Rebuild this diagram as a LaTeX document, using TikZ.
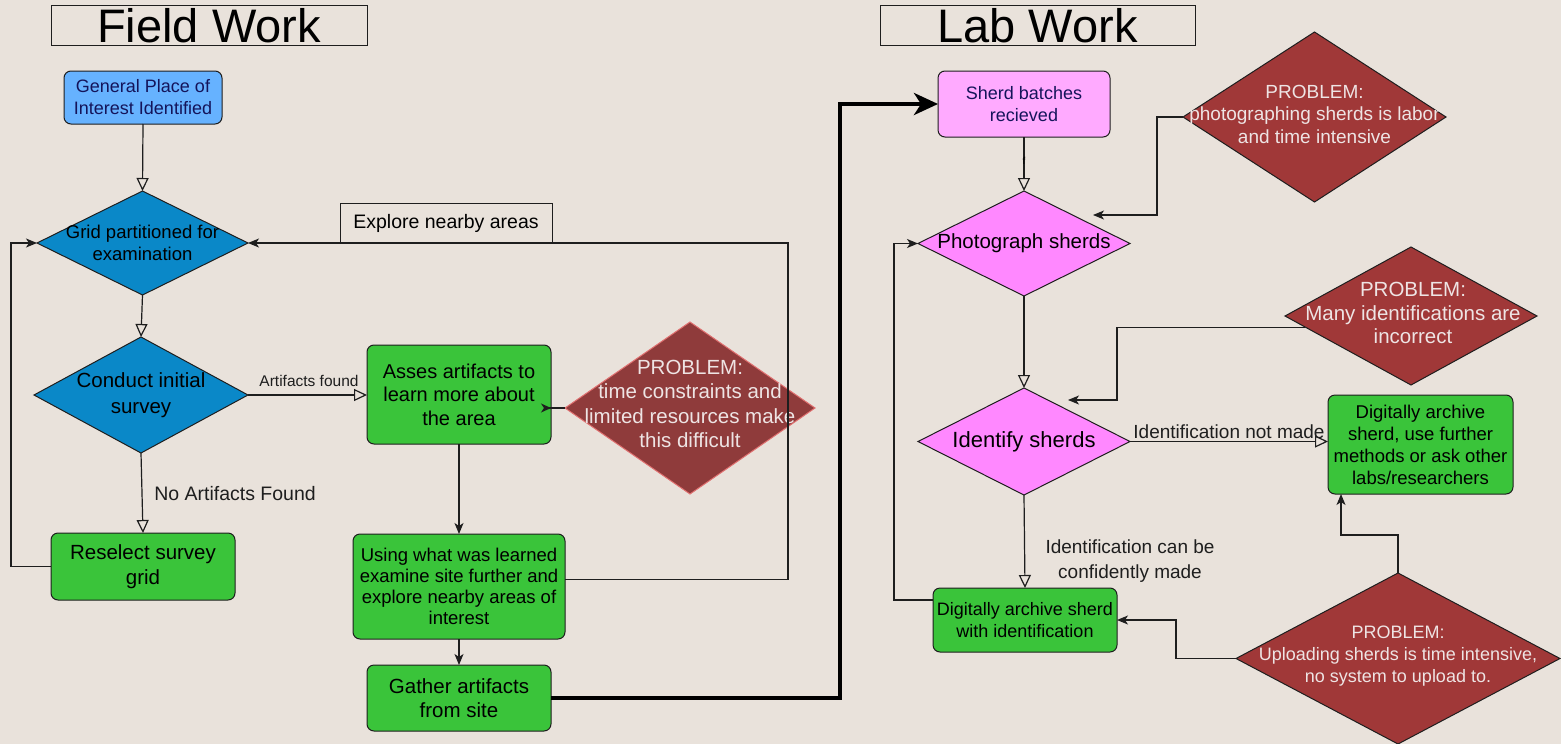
\documentclass[tikz,border=0pt]{standalone}
\usepackage{fontspec}
\setmainfont{Liberation Sans}
\usetikzlibrary{shapes.geometric,arrows.meta,calc}
\definecolor{bg}{RGB}{233,226,219}
\definecolor{blueA}{RGB}{102,178,255}
\definecolor{blueD}{RGB}{10,136,200}
\definecolor{greenN}{RGB}{58,196,58}
\definecolor{pinkR}{RGB}{255,170,255}
\definecolor{pinkD}{RGB}{255,136,255}
\definecolor{probA}{RGB}{143,59,59}
\definecolor{probB}{RGB}{160,56,56}
\definecolor{probEdge}{RGB}{224,112,112}
\definecolor{probText}{RGB}{238,228,228}
\definecolor{navy}{RGB}{20,20,90}
\definecolor{ink}{RGB}{30,30,30}
\newcommand{\myfs}[2]{\fontsize{#1pt}{#2pt}\selectfont}
\begin{document}
\begin{tikzpicture}[x=1pt,y=-1pt,
  box/.style={draw=ink, line width=1pt, rounded corners=7pt, inner sep=0pt, outer sep=0pt, align=center},
  dia/.style={diamond, draw=ink, line width=1pt, inner sep=0pt, outer sep=0pt},
  titlebox/.style={draw=ink, line width=1pt, minimum width=316pt, minimum height=40pt, inner sep=0pt, outer sep=0pt},
  dtext/.style={align=center, inner sep=0pt},
  ptext/.style={align=center, inner sep=0pt, text=probText},
  lbl/.style={align=center, inner sep=0pt, text=ink},
  conn/.style={draw=ink, line width=1.2pt},
  hol/.style={conn, -{Triangle[open, length=13pt, width=12pt]}},
  fil/.style={conn, -{Stealth[length=11pt, width=9pt, inset=3pt]}},
  thickarrow/.style={draw=black, line width=4pt, -{Stealth[length=24pt, width=22pt, inset=7pt]}}
]
\fill[bg] (0,0) rectangle (1561,744);
\useasboundingbox (0,0) rectangle (1561,744);

% titles
\node[titlebox] (fwbox) at (209,25) {};
\node[font=\myfs{47}{50}, anchor=base, inner sep=0pt] (fwt) at (209,42) {Field Work};
\node[titlebox, minimum width=315pt] (lwbox) at (1037.5,25) {};
\node[font=\myfs{47}{50}, anchor=base, inner sep=0pt] (lwt) at (1037.5,42) {Lab Work};

% field work nodes
\node[box, fill=blueA, minimum width=158pt, minimum height=53pt, text=navy, font=\myfs{18}{22}] (gen) at (143,97.5) {General Place of\\Interest Identified};
\node[dia, fill=blueD, minimum width=211pt, minimum height=104pt] (grid) at (142.5,243) {};
\node[dtext, font=\myfs{18.5}{22}] (gridt) at (grid.center) {Grid partitioned for\\examination};
\node[dia, fill=blueD, minimum width=214pt, minimum height=116pt] (cond) at (141,395) {};
\node[dtext, font=\myfs{20.5}{26}] (condt) at (cond.center) {Conduct initial\\survey};
\node[box, fill=greenN, minimum width=184pt, minimum height=67pt, font=\myfs{20.5}{24.5}] (resel) at (143,566.5) {Reselect survey\\grid};
\node[box, fill=greenN, minimum width=184pt, minimum height=99pt, font=\myfs{20}{23.5}] (asses) at (459,394.5) {Asses artifacts to\\learn more about\\the area};
\node[dia, fill=probA, draw=probEdge, minimum width=250pt, minimum height=172pt] (p1) at (690,408) {};
\node[ptext, font=\myfs{20.5}{24.5}] (p1t) at (690,404) {PROBLEM:\\time constraints and\\limited resources make\\this difficult};
\node[box, fill=greenN, minimum width=212pt, minimum height=105pt, font=\myfs{18.5}{21}] (using) at (459,586.5) {Using what was learned\\examine site further and\\explore nearby areas of\\interest};
\node[box, fill=greenN, minimum width=184pt, minimum height=66pt, font=\myfs{20.5}{24.5}] (gather) at (459,698) {Gather artifacts\\from site};
\node[draw=ink, line width=1pt, minimum width=212pt, minimum height=40pt, inner sep=0pt, outer sep=0pt, font=\myfs{19.5}{22}] (explore) at (446,223) {Explore nearby areas};

% lab work nodes
\node[box, fill=pinkR, minimum width=172pt, minimum height=66pt, text=navy, font=\myfs{18}{22}] (sherd) at (1024,104) {Sherd batches\\recieved};
\node[dia, fill=pinkD, minimum width=212pt, minimum height=105pt] (photo) at (1024,243.5) {};
\node[dtext, font=\myfs{20.5}{24}] (photot) at (photo.center) {Photograph sherds};
\node[dia, fill=probB, minimum width=263pt, minimum height=170pt] (p2) at (1314.5,117) {};
\node[ptext, font=\myfs{19}{22.5}] (p2t) at (1314.5,114) {PROBLEM:\\photographing sherds is labor\\and time intensive};
\node[dia, fill=probB, minimum width=252pt, minimum height=138pt] (p3) at (1411,316) {};
\node[ptext, font=\myfs{20.5}{23.5}] (p3t) at (1413,313) {PROBLEM:\\Many identifications are\\incorrect};
\node[dia, fill=pinkD, minimum width=212pt, minimum height=107pt] (ident) at (1024,441.5) {};
\node[dtext, font=\myfs{22}{26}] (identt) at (ident.center) {Identify sherds};
\node[box, fill=greenN, minimum width=185pt, minimum height=99pt, font=\myfs{18.5}{22}] (further) at (1420.5,444.5) {Digitally archive\\sherd, use further\\methods or ask other\\labs/researchers};
\node[box, fill=greenN, minimum width=184pt, minimum height=64pt, font=\myfs{18}{22.5}] (withid) at (1025,620) {Digitally archive sherd\\with identification};
\node[dia, fill=probB, minimum width=324pt, minimum height=171pt] (p4) at (1398,658.5) {};
\node[ptext, font=\myfs{18}{22}] (p4t) at (1398,656) {PROBLEM:\\Uploading sherds is time intensive,\\no system to upload to.};

% helper coordinates
\coordinate (lx) at (11,0);
\coordinate (rx) at (788,0);
\coordinate (tx) at (840,0);
\coordinate (p2x) at (1157,0);
\coordinate (p2in) at (1093,215);
\coordinate (p3x) at (1117,0);
\coordinate (p3in) at (1068,400);
\coordinate (wx) at (894,0);
\coordinate (p4x) at (1176,0);
\coordinate (fin) at (1341,494);

% field work connectors
\draw[hol] (gen.south) -- (grid.north);
\draw[hol] (grid.south) -- (cond.north);
\draw[hol] (cond.east) -- (cond.east -| asses.west);
\node[lbl, font=\myfs{15.5}{18}] (afl) at (309,381) {Artifacts found};
\draw[hol] (cond.south) -- (resel.north);
\node[lbl, font=\myfs{19.5}{22}] (nafl) at (235,494) {No Artifacts Found};
\draw[fil] (resel.west) -- (resel.west -| lx) |- (grid.west);
\draw[conn, {Stealth[length=10pt, width=9pt, inset=3pt, reversed]}-] ([xshift=-10pt]p1.west -| asses.east) -- (p1.west);
\draw[fil] (asses.south) -- (using.north);
\draw[fil] (using.south) -- (gather.north);
\draw[fil] ([yshift=7pt]using.east) -- ([yshift=7pt]using.east -| rx) |- (grid.east);
\draw[thickarrow] (gather.east) -- (gather.east -| tx) |- (sherd.west);

% lab work connectors
\draw[hol] (sherd.south) -- (photo.north);
\node[font=\myfs{10}{12}, inner sep=0pt] (flab) at (1024,161) {f};
\draw[fil] (p2.west) -- (p2.west -| p2x) |- (p2in);
\draw[hol] (photo.south) -- (ident.north);
\draw[fil] (p3.186) -- (p3.186 -| p3x) |- (p3in);
\draw[hol] (ident.east) -- (ident.east -| further.west);
\node[lbl, font=\myfs{19}{22}] (inml) at (1229,432) {Identification not made};
\draw[hol] (ident.south) -- (withid.north);
\node[lbl, font=\myfs{19}{25}] (icl) at (1130,561) {Identification can be\\confidently made};
\draw[fil] ([yshift=20pt]withid.west) -- ([yshift=20pt]withid.west -| wx) |- (photo.west);
\draw[fil] (p4.west) -- (p4.west -| p4x) |- (withid.east);
\draw[fil] (p4.north) -- ++(0,-38) -| (fin);
\end{tikzpicture}
\end{document}
